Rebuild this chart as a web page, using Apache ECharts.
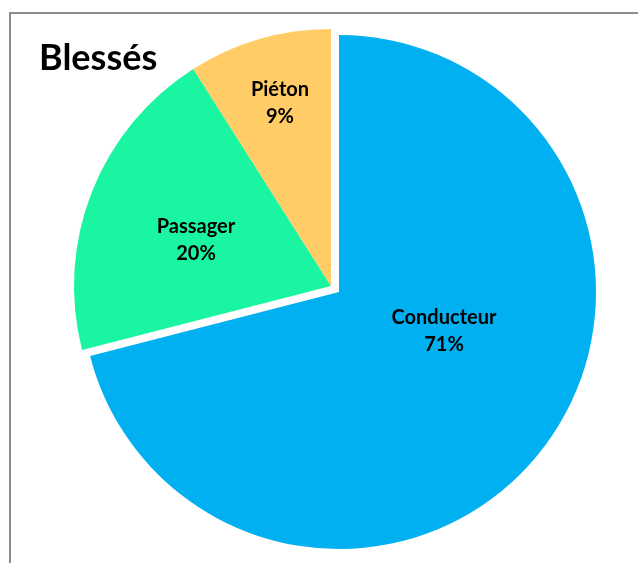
<!DOCTYPE html>
<html>
<head>
<meta charset="utf-8">
<script src="https://cdn.jsdelivr.net/npm/echarts@6/dist/echarts.min.js"></script>
<style>
  html, body { margin: 0; padding: 0; background: #fff; }
  #blesses-pie { width: 638px; height: 563px; }
</style>
</head>
<body>
<div id="blesses-pie"></div>
<script>
// parts des blessés par catégorie d'usager
var categories = ['Conducteur', 'Passager', 'Piéton'];
var values = [71, 20, 9];
var colors = ['#00B0F0', '#1AF5A2', '#FFCC66'];
// position des étiquettes (comme dans le graphique d'origine)
var label_spots = [[444, 331], [196, 240], [280, 103]];

// une série par "morceau": la part détachée (Conducteur) est dessinée
// dans une seconde série au centre décalé, les autres parts y sont transparentes
function Build_pie_data(detached){
    var pie_data = [];
    for (var i = 0; i < categories.length; i++) {
        var shown = (i == 0) == detached;
        pie_data.push({
            name: categories[i],
            value: values[i],
            itemStyle: { color: shown ? colors[i] : 'rgba(0,0,0,0)' },
            label: { show: shown }
        });
    }
    return pie_data;
}

function Draw_blesses_pie(){
    var label_style = {
        show: true,
        position: 'inside',
        formatter: '{b}\n{d}%',
        fontFamily: 'Lato',
        fontWeight: 'bold',
        fontSize: 20,
        lineHeight: 27,
        color: '#000'
    };
    var layout = function (params) {
        var p = label_spots[params.dataIndex];
        return { x: p[0], y: p[1], align: 'center', verticalAlign: 'middle' };
    };

    var mychart = echarts.init(document.getElementById('blesses-pie'));
    var option = {
        backgroundColor: '#fff',
        animation: false,
        title: {
            text: 'Blessés',
            left: 34,
            top: 35,
            textStyle: {
                fontFamily: 'Lato',
                fontWeight: 'bold',
                fontSize: 36,
                color: '#000'
            }
        },
        graphic: [{
            type: 'rect',
            shape: { x: 10, y: 13, width: 800, height: 800 },
            style: { fill: 'none', stroke: '#8c8c8c', lineWidth: 2 },
            silent: true
        }],
        series: [{
            type: 'pie',
            center: [331, 286],
            radius: 257,
            startAngle: 90,
            clockwise: true,
            itemStyle: { borderWidth: 0 },
            emphasis: { disabled: true },
            label: label_style,
            labelLine: { show: false },
            labelLayout: layout,
            data: Build_pie_data(false)
        }, {
            type: 'pie',
            center: [339, 292],
            radius: 257,
            startAngle: 90,
            clockwise: true,
            itemStyle: { borderWidth: 0 },
            emphasis: { disabled: true },
            label: label_style,
            labelLine: { show: false },
            labelLayout: layout,
            data: Build_pie_data(true)
        }]
    };
    mychart.setOption(option);
}

Draw_blesses_pie();
</script>
</body>
</html>
